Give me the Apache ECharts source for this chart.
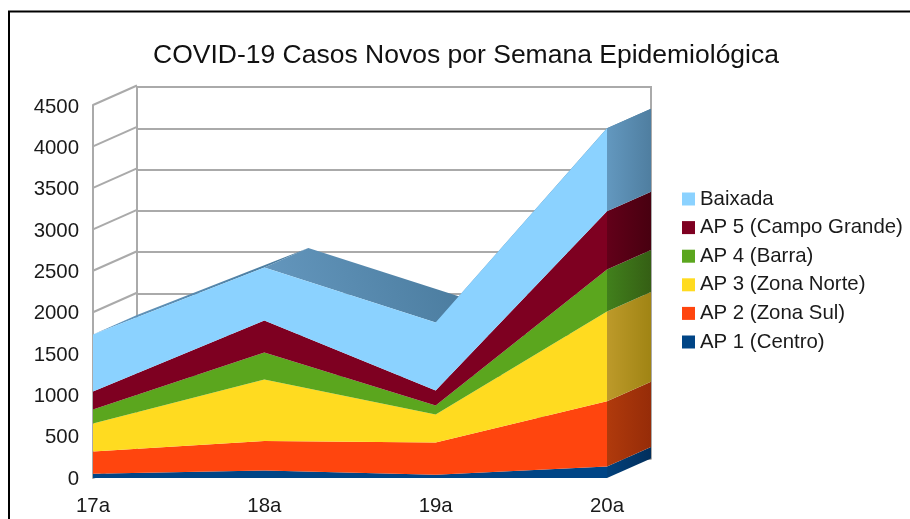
<!DOCTYPE html>
<html>
<head>
<meta charset="utf-8">
<style>html,body{margin:0;padding:0;background:#fff}#chart{width:910px;height:519px}</style>
<script src="https://cdn.jsdelivr.net/npm/echarts@6/dist/echarts.min.js"></script>
</head>
<body>
<div id="chart"></div>
<script>
const categories = ['17a', '18a', '19a', '20a'];
const yTicks = [0, 500, 1000, 1500, 2000, 2500, 3000, 3500, 4000, 4500];

const ap1 = [50, 90, 40, 140];
const ap2 = [270, 355, 388, 786];
const ap3 = [337, 743, 338, 1082];
const ap4 = [169, 326, 108, 507];
const ap5 = [217, 386, 181, 703];
const baixada = [688, 639, 820, 1000];

const seriesNames = ['AP 1 (Centro)', 'AP 2 (Zona Sul)', 'AP 3 (Zona Norte)', 'AP 4 (Barra)', 'AP 5 (Campo Grande)', 'Baixada'];
const seriesValues = [ap1, ap2, ap3, ap4, ap5, baixada];

const colors = ['#004586', '#ff450e', '#ffdb20', '#5ba61e', '#7e0021', '#8bd2ff'];
const sideColors = [
  ['#02417c', '#022f5c'],
  ['#b03a0c', '#962c08'],
  ['#bd9a2a', '#a08414'],
  ['#41801c', '#355f14'],
  ['#620019', '#480010'],
  ['#6398bf', '#4f7ea0']
];

// how far the back wall sits from the front plane, in pixels
const depthX = 44;
const depthY = -19.5;
const font = '"Liberation Sans", Arial, sans-serif';
const gridColor = '#aaaaaa';

// running totals of the stack
const lastIdx = categories.length - 1;
const totals = [];
seriesValues.forEach((vals, s) => {
  totals.push(vals.map((v, i) => v + (s ? totals[s - 1][i] : 0)));
});

const sideData = seriesValues.map((vals, s) => [s ? totals[s - 1][lastIdx] : 0, totals[s][lastIdx], s]);
const topData = totals[5].slice(0, -1).map((v, i) => [i, v, totals[5][i + 1]]);

const chart = echarts.init(document.getElementById('chart'));

chart.setOption({
  animation: false,
  backgroundColor: '#fff',
  title: {
    text: 'COVID-19 Casos Novos por Semana Epidemiológica',
    left: 153,
    top: 42,
    padding: 0,
    itemGap: 0,
    textStyle: { fontFamily: font, fontSize: 26.5, fontWeight: 'normal', color: '#111' }
  },
  legend: {
    orient: 'vertical',
    left: 682,
    top: 189,
    padding: 0,
    itemGap: 8.6,
    itemWidth: 13,
    itemHeight: 13,
    icon: 'rect',
    data: seriesNames.slice().reverse(),
    textStyle: { fontFamily: font, fontSize: 20.4, color: '#1a1a1a' }
  },
  graphic: [{
    type: 'polyline',
    silent: true,
    shape: { points: [[9, 519], [9, 11.5], [910, 11.5]] },
    style: { stroke: '#000', lineWidth: 2, fill: null }
  }],
  grid: [
    { left: 93, top: 105, width: 514, height: 373 },
    { left: 93 + depthX, top: 87, width: 514, height: 371.5, show: true, borderColor: gridColor, borderWidth: 2, backgroundColor: 'transparent' },
    // only carries the value labels, which sit a little lower than the ticks
    { left: 93, top: 107, width: 514, height: 372 }
  ],
  xAxis: [
    {
      type: 'category', gridIndex: 0, data: categories, boundaryGap: false,
      axisLine: { show: false }, axisTick: { show: false },
      axisLabel: { margin: 18, fontFamily: font, fontSize: 20.4, color: '#1a1a1a' }
    },
    {
      type: 'category', gridIndex: 1, data: categories, boundaryGap: false,
      axisLine: { show: false }, axisTick: { show: false }, axisLabel: { show: false }
    },
    {
      type: 'category', gridIndex: 2, data: categories, boundaryGap: false,
      axisLine: { show: false }, axisTick: { show: false }, axisLabel: { show: false }
    }
  ],
  yAxis: [
    {
      type: 'value', gridIndex: 0, min: 0, max: 4500, interval: 500,
      axisLine: { show: true, lineStyle: { color: gridColor, width: 2 } },
      axisTick: { show: false },
      splitLine: { show: false },
      axisLabel: { show: false }
    },
    {
      type: 'value', gridIndex: 1, min: 0, max: 4500, interval: 500,
      axisLine: { show: false }, axisTick: { show: false }, axisLabel: { show: false },
      splitLine: { show: true, lineStyle: { color: gridColor, width: 2 } }
    },
    {
      type: 'value', gridIndex: 2, min: 0, max: 4500, interval: 500,
      axisLine: { show: false }, axisTick: { show: false }, splitLine: { show: false },
      axisLabel: { margin: 14, fontFamily: font, fontSize: 20.4, color: '#1a1a1a', formatter: v => String(v) }
    }
  ],
  series: [
    // slanted lines on the left wall
    {
      type: 'custom',
      xAxisIndex: 0,
      yAxisIndex: 0,
      z: 1,
      silent: true,
      data: yTicks.map(t => [0, t]),
      renderItem: (params, api) => {
        const p = api.coord([api.value(0), api.value(1)]);
        return {
          type: 'line',
          shape: { x1: p[0], y1: p[1], x2: p[0] + depthX, y2: p[1] + depthY },
          style: { stroke: gridColor, lineWidth: 2 }
        };
      }
    },
    // top surface of the stack, going back from the front plane
    {
      type: 'custom',
      xAxisIndex: 0,
      yAxisIndex: 0,
      z: 2,
      silent: true,
      data: topData,
      renderItem: (params, api) => {
        const i = api.value(0);
        const a = api.coord([i, api.value(1)]);
        const b = api.coord([i + 1, api.value(2)]);
        return {
          type: 'polygon',
          shape: { points: [a, b, [b[0] + depthX, b[1] + depthY], [a[0] + depthX, a[1] + depthY]] },
          style: {
            fill: new echarts.graphic.LinearGradient(0, 1, 1, 0, [
              { offset: 0, color: '#6699c0' },
              { offset: 1, color: '#47789a' }
            ])
          }
        };
      }
    },
    // side faces at the last week
    {
      type: 'custom',
      xAxisIndex: 0,
      yAxisIndex: 0,
      z: 3,
      silent: true,
      data: sideData,
      renderItem: (params, api) => {
        const a = api.coord([lastIdx, api.value(0)]);
        const b = api.coord([lastIdx, api.value(1)]);
        const c = sideColors[api.value(2)];
        return {
          type: 'polygon',
          shape: { points: [a, b, [b[0] + depthX, b[1] + depthY], [a[0] + depthX, a[1] + depthY]] },
          style: {
            fill: new echarts.graphic.LinearGradient(0, 0, 1, 0, [
              { offset: 0, color: c[0] },
              { offset: 1, color: c[1] }
            ])
          }
        };
      }
    },
    ...seriesNames.map((name, s) => ({
      name: name,
      type: 'line',
      xAxisIndex: 0,
      yAxisIndex: 0,
      stack: 'casos',
      z: 4,
      symbol: 'none',
      silent: true,
      data: seriesValues[s],
      itemStyle: { color: colors[s] },
      lineStyle: { width: 0 },
      areaStyle: { color: colors[s], opacity: 1 }
    }))
  ]
});
</script>
</body>
</html>
